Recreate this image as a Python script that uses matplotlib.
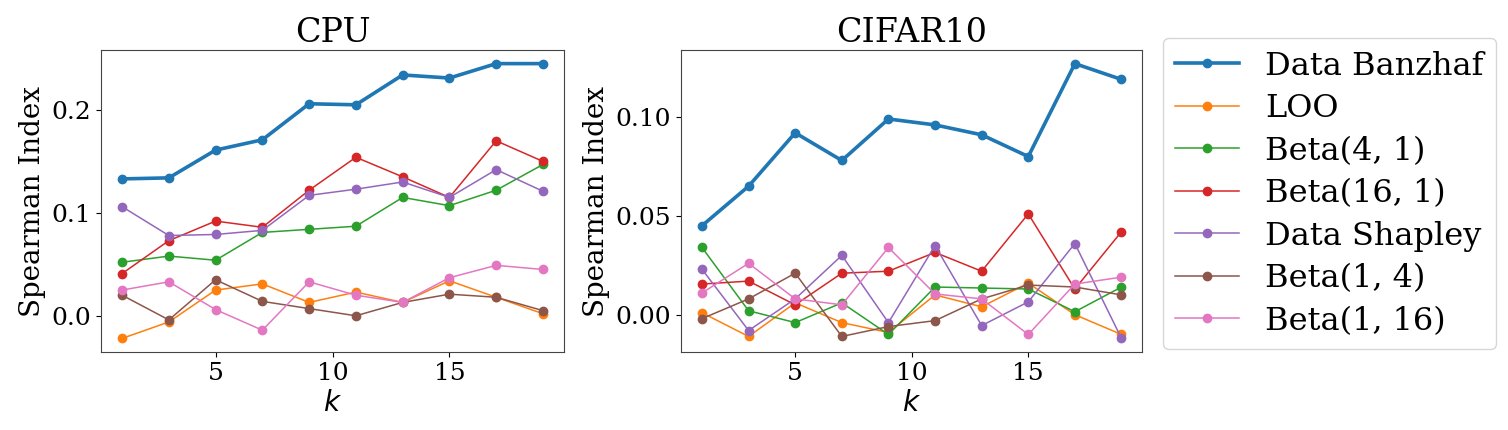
import matplotlib
matplotlib.use("Agg")
import matplotlib.pyplot as plt
import matplotlib.ticker as ticker

# k values (odd k from 1 to 19)
k_values = [1, 3, 5, 7, 9, 11, 13, 15, 17, 19]

method_names = ["Data Banzhaf", "LOO", "Beta(4, 1)", "Beta(16, 1)",
                "Data Shapley", "Beta(1, 4)", "Beta(1, 16)"]

# CPU dataset
cpu_banzhaf = [0.133, 0.134, 0.161, 0.171, 0.206, 0.205, 0.234, 0.231, 0.245, 0.245]
cpu_loo = [-0.022, -0.006, 0.025, 0.031, 0.013, 0.023, 0.013, 0.034, 0.018, 0.002]
cpu_beta_4_1 = [0.052, 0.058, 0.054, 0.081, 0.084, 0.087, 0.115, 0.107, 0.122, 0.147]
cpu_beta_16_1 = [0.041, 0.073, 0.092, 0.086, 0.122, 0.154, 0.135, 0.115, 0.170, 0.150]
cpu_shapley = [0.106, 0.078, 0.079, 0.083, 0.117, 0.123, 0.130, 0.115, 0.142, 0.121]
cpu_beta_1_4 = [0.020, -0.004, 0.035, 0.014, 0.007, 0.000, 0.013, 0.021, 0.018, 0.005]
cpu_beta_1_16 = [0.025, 0.033, 0.006, -0.014, 0.033, 0.020, 0.013, 0.037, 0.049, 0.045]

# CIFAR10 dataset
cifar_banzhaf = [0.045, 0.065, 0.092, 0.078, 0.099, 0.096, 0.091, 0.080, 0.127, 0.119]
cifar_loo = [0.001, -0.011, 0.006, -0.004, -0.009, 0.010, 0.004, 0.016, 0.000, -0.010]
cifar_beta_4_1 = [0.034, 0.002, -0.004, 0.006, -0.010, 0.014, 0.0135, 0.013, 0.0015, 0.014]
cifar_beta_16_1 = [0.0155, 0.017, 0.005, 0.021, 0.022, 0.0315, 0.022, 0.051, 0.013, 0.042]
cifar_shapley = [0.023, -0.008, 0.008, 0.030, -0.004, 0.035, -0.0055, 0.0065, 0.036, -0.012]
cifar_beta_1_4 = [-0.002, 0.008, 0.021, -0.011, -0.006, -0.003, 0.008, 0.015, 0.014, 0.010]
cifar_beta_1_16 = [0.011, 0.026, 0.008, 0.005, 0.034, 0.0105, 0.008, -0.010, 0.0155, 0.019]

cpu_series = [cpu_banzhaf, cpu_loo, cpu_beta_4_1, cpu_beta_16_1,
              cpu_shapley, cpu_beta_1_4, cpu_beta_1_16]
cifar_series = [cifar_banzhaf, cifar_loo, cifar_beta_4_1, cifar_beta_16_1,
                cifar_shapley, cifar_beta_1_4, cifar_beta_1_16]

plt.rcParams["font.family"] = "DejaVu Serif"
plt.rcParams["mathtext.fontset"] = "dejavusans"

fig = plt.figure(figsize=(15.08, 4.3), dpi=100)
ax_cpu = fig.add_axes([0.067, 0.181, 0.307, 0.703])
ax_cifar = fig.add_axes([0.4516, 0.181, 0.306, 0.703])

for ax, series, title in [(ax_cpu, cpu_series, "CPU"), (ax_cifar, cifar_series, "CIFAR10")]:
    for i, (name, values) in enumerate(zip(method_names, series)):
        lw = 2.6 if i == 0 else 1.1
        ax.plot(k_values, values, marker="o", markersize=6, linewidth=lw,
                color="C{}".format(i), label=name)
    ax.set_title(title, fontsize=24)
    ax.set_xlabel("$k$", fontsize=20)
    ax.set_ylabel("Spearman Index", fontsize=20)
    ax.tick_params(labelsize=18)
    for spine in ax.spines.values():
        spine.set_color("#444444")

ax_cpu.yaxis.set_major_locator(ticker.MultipleLocator(0.1))
ax_cifar.yaxis.set_major_locator(ticker.MultipleLocator(0.05))

handles, labels = ax_cpu.get_legend_handles_labels()
fig.legend(handles, labels, loc="upper left", bbox_to_anchor=(0.771, 0.912),
           borderaxespad=0, fontsize=23, labelspacing=0.36)

fig.savefig("out.png", dpi=100)
